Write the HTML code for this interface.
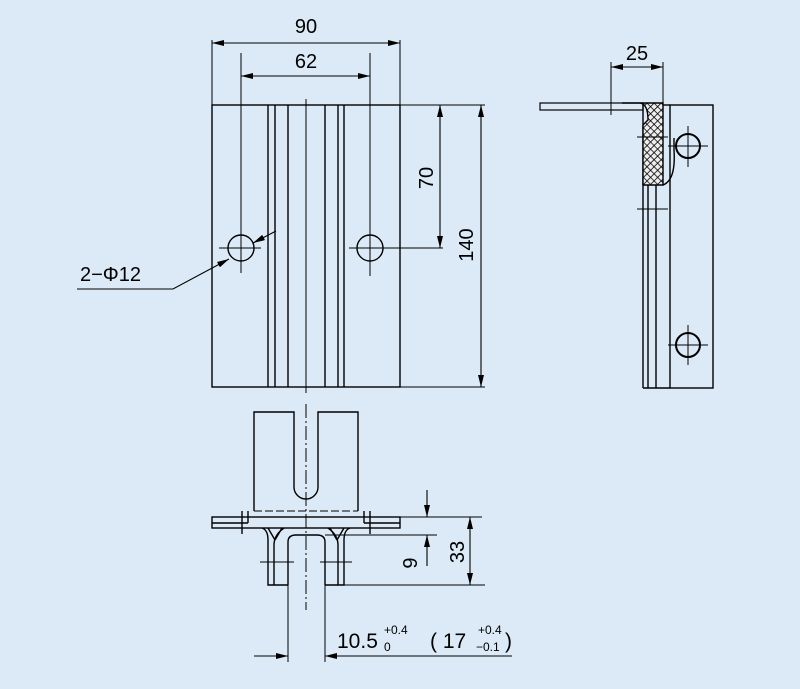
<!DOCTYPE html>
<html><head><meta charset="utf-8"><style>
html,body{margin:0;padding:0;background:#dbeaf6;}
svg{display:block;}
text{font-family:"Liberation Sans",sans-serif;fill:#000;}
</style></head><body>
<svg width="800" height="689" viewBox="0 0 800 689" xmlns="http://www.w3.org/2000/svg">
<defs>
<marker id="a" viewBox="0 0 12 6" refX="12" refY="3" markerWidth="12" markerHeight="6" orient="auto-start-reverse" markerUnits="userSpaceOnUse"><path d="M0,0 L12,3 L0,6 z" fill="#000"/></marker>
<pattern id="h" width="5" height="5" patternUnits="userSpaceOnUse" patternTransform="rotate(45)"><rect width="5" height="5" fill="#eee"/><path d="M0,0 V5 M0,0 H5" stroke="#000" stroke-width="1.6"/></pattern>
</defs>
<rect width="800" height="689" fill="#dbeaf6"/>
<g stroke="#000" stroke-width="1.4" fill="none">
<!-- top view -->
<rect x="212" y="105" width="188" height="282"/>
<line x1="268" y1="105" x2="268" y2="387"/><line x1="275" y1="105" x2="275" y2="387"/>
<line x1="288" y1="105" x2="288" y2="387"/><line x1="325" y1="105" x2="325" y2="387"/>
<line x1="338" y1="105" x2="338" y2="387"/><line x1="344" y1="105" x2="344" y2="387"/>
<line x1="306" y1="99" x2="306" y2="393" stroke-width="1"/>
<circle cx="241" cy="248" r="13"/><circle cx="370" cy="248" r="13"/>
<line x1="219" y1="248" x2="261" y2="248" stroke-width="1"/><line x1="241" y1="53" x2="241" y2="273" stroke-width="1"/>
<line x1="349" y1="248" x2="443" y2="248" stroke-width="1"/><line x1="370" y1="53" x2="370" y2="276" stroke-width="1"/>
<line x1="212" y1="40" x2="212" y2="105" stroke-width="1"/><line x1="400" y1="40" x2="400" y2="105" stroke-width="1"/>
<line x1="212" y1="43" x2="400" y2="43" stroke-width="1.1" marker-start="url(#a)" marker-end="url(#a)"/>
<line x1="241" y1="76" x2="370" y2="76" stroke-width="1.1" marker-start="url(#a)" marker-end="url(#a)"/>
<line x1="400" y1="105" x2="485" y2="105" stroke-width="1"/><line x1="400" y1="387" x2="485" y2="387" stroke-width="1"/>
<line x1="440" y1="105" x2="440" y2="248" stroke-width="1.1" marker-start="url(#a)" marker-end="url(#a)"/>
<line x1="481" y1="105" x2="481" y2="387" stroke-width="1.1" marker-start="url(#a)" marker-end="url(#a)"/>
<polyline points="77,289 173,289 229,259" stroke-width="1.1" marker-end="url(#a)"/>
<line x1="276" y1="231" x2="253" y2="243" stroke-width="1.1" marker-end="url(#a)"/>
<!-- side view -->
<rect x="540" y="103" width="103" height="7" stroke-width="1.2"/>
<rect x="670" y="105" width="43" height="283"/>
<line x1="643" y1="105" x2="643" y2="388"/><line x1="648" y1="185" x2="648" y2="388"/>
<line x1="656" y1="185" x2="656" y2="388"/><line x1="643" y1="388" x2="670" y2="388"/><line x1="663" y1="105" x2="670" y2="105"/>
<path d="M622,103 L640,103 Q648,104 648,120 L643,125 L643,185 L663,185 L663,103 Z" fill="url(#h)"/>
<path d="M663,185 Q676,180 674,150 L674,138"/>
<circle cx="688" cy="146" r="12" stroke-width="2"/><circle cx="688" cy="345" r="12" stroke-width="2"/>
<line x1="668" y1="146" x2="708" y2="146" stroke-width="1"/><line x1="688" y1="126" x2="688" y2="167" stroke-width="1"/>
<line x1="668" y1="345" x2="708" y2="345" stroke-width="1"/><line x1="688" y1="325" x2="688" y2="365" stroke-width="1"/>
<line x1="637" y1="137" x2="668" y2="137" stroke-width="1"/><line x1="637" y1="209" x2="668" y2="209" stroke-width="1"/>
<line x1="611" y1="62" x2="611" y2="115" stroke-width="1"/><line x1="663" y1="62" x2="663" y2="105" stroke-width="1"/>
<line x1="611" y1="67" x2="663" y2="67" stroke-width="1.1" marker-start="url(#a)" marker-end="url(#a)"/>
<!-- bottom view -->
<path d="M254,511 L254,412 L294,412 L294,487 A12,12 0 0 0 318,487 L318,412 L358,412 L358,511"/>
<line x1="254" y1="511" x2="358" y2="511" stroke-dasharray="8,3" stroke-width="1.1"/>
<line x1="306" y1="404" x2="306" y2="610" stroke-width="1" stroke-dasharray="14,3,2,3"/>
<rect x="212" y="517" width="188" height="11"/>
<line x1="212" y1="523" x2="248" y2="523"/><line x1="364" y1="523" x2="400" y2="523"/>
<line x1="248" y1="511" x2="248" y2="523"/><line x1="364" y1="511" x2="364" y2="523"/>
<line x1="242" y1="511" x2="242" y2="534"/><line x1="370" y1="511" x2="370" y2="534"/>
<path d="M262,528 Q268,530 268,540 L268,585 L288,585"/>
<path d="M274,585 L274,545 Q274,535 284,528 M268,528 L275,540 M282,528 L275,540"/>
<path d="M288,585 L288,542 Q288,535 296,535 L317,535 Q325,535 325,542 L325,585"/>
<path d="M325,585 L344,585 L344,540 Q344,530 350,528 M338,585 L338,545 Q338,535 328,528 M330,528 L337,540 M344,528 L337,540"/>
<line x1="260" y1="562" x2="294" y2="562" stroke-width="1"/><line x1="320" y1="562" x2="352" y2="562" stroke-width="1"/>
<line x1="288" y1="585" x2="288" y2="662" stroke-width="1"/><line x1="325" y1="585" x2="325" y2="662" stroke-width="1"/>
<line x1="344" y1="585" x2="485" y2="585" stroke-width="1"/>
<line x1="400" y1="517" x2="482" y2="517" stroke-width="1"/><line x1="325" y1="535" x2="437" y2="535" stroke-width="1"/>
<line x1="427" y1="490" x2="427" y2="517" stroke-width="1.1" marker-end="url(#a)"/>
<line x1="427" y1="566" x2="427" y2="535" stroke-width="1.1" marker-end="url(#a)"/>
<line x1="470" y1="517" x2="470" y2="585" stroke-width="1.1" marker-start="url(#a)" marker-end="url(#a)"/>
<line x1="254" y1="656" x2="288" y2="656" stroke-width="1.1" marker-end="url(#a)"/>
<line x1="512" y1="656" x2="325" y2="656" stroke-width="1.1" marker-end="url(#a)"/>
</g>
<text x="306" y="33" font-size="20" text-anchor="middle">90</text>
<text x="306" y="68" font-size="20" text-anchor="middle">62</text>
<text x="80" y="281" font-size="20">2−Φ12</text>
<text x="637" y="60" font-size="20" text-anchor="middle">25</text>
<text transform="translate(433,178) rotate(-90)" font-size="20" text-anchor="middle">70</text>
<text transform="translate(473,245) rotate(-90)" font-size="20" text-anchor="middle">140</text>
<text transform="translate(417,563) rotate(-90)" font-size="20" text-anchor="middle">9</text>
<text transform="translate(464,552) rotate(-90)" font-size="20" text-anchor="middle">33</text>
<text x="337" y="648" font-size="21">10.5</text>
<text x="384" y="634" font-size="12">+0.4</text>
<text x="384" y="651" font-size="12">0</text>
<text x="430" y="648" font-size="21">( 17</text>
<text x="478" y="634" font-size="12">+0.4</text>
<text x="476" y="651" font-size="12">−0.1</text>
<text x="505" y="648" font-size="21">)</text>
</svg>
</body></html>
